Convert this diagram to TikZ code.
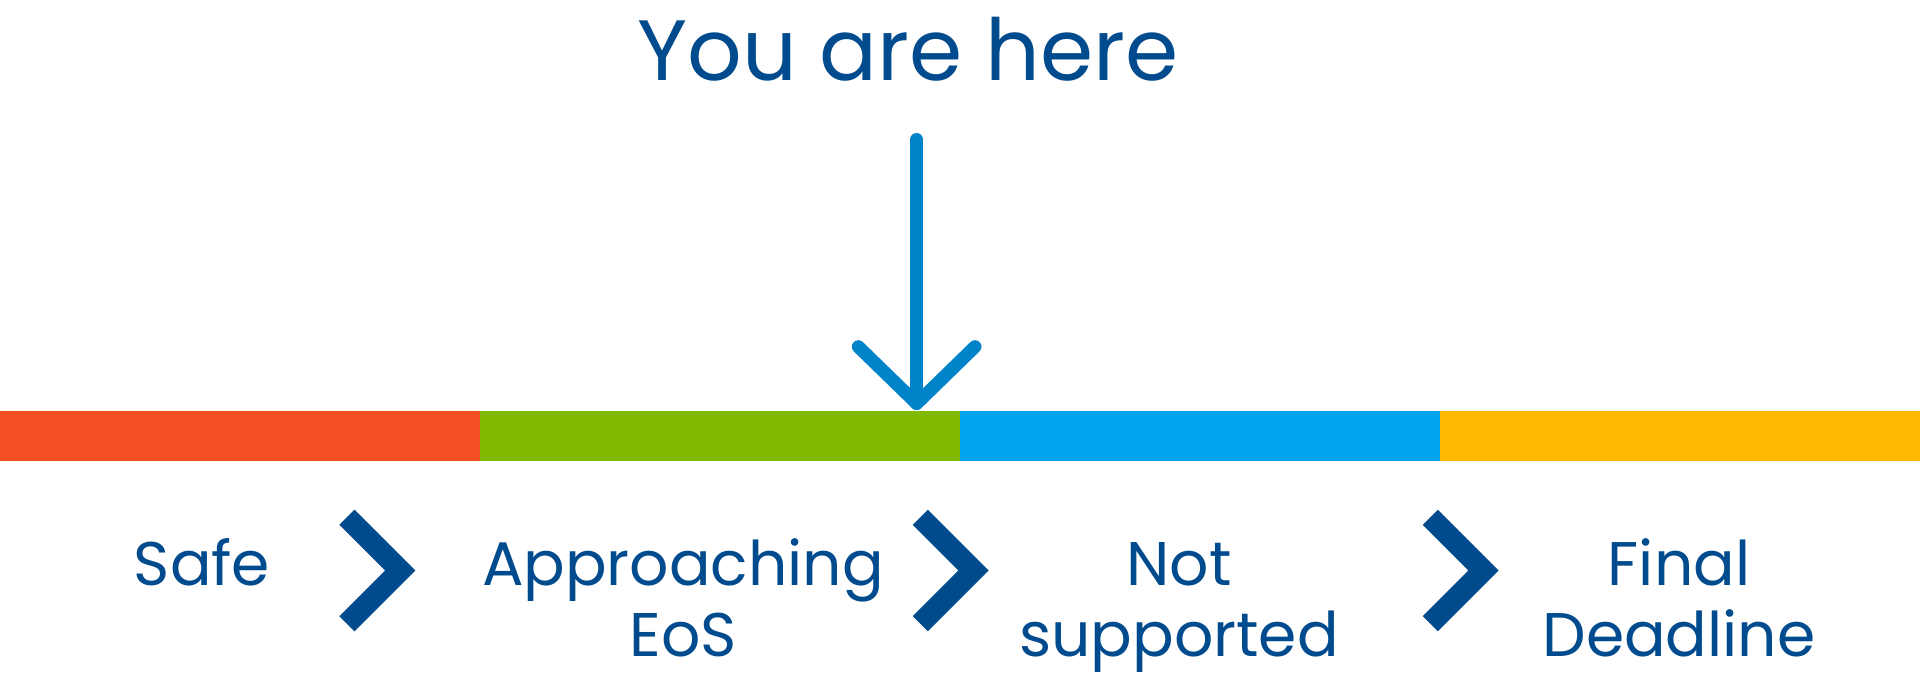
\documentclass[tikz,border=0pt]{standalone}
\usepackage{fontspec}
\setmainfont{Poppins}
\definecolor{msred}{HTML}{F25022}
\definecolor{msgreen}{HTML}{7FBA00}
\definecolor{msblue}{HTML}{00A4EF}
\definecolor{msyellow}{HTML}{FFB900}
\definecolor{textblue}{HTML}{004B8D}
\definecolor{arrowblue}{HTML}{0083C9}
\tikzset{
  titletext/.style={text=textblue, font=\fontsize{42.8pt}{50pt}\selectfont, inner sep=0pt, anchor=base},
  stagetext/.style={text=textblue, font=\fontsize{30.8pt}{35.5pt}\selectfont, inner sep=0pt, align=center, anchor=base},
  chevron/.style={draw=textblue, line width=10.7pt, line cap=butt, line join=miter},
  pointer/.style={draw=arrowblue, line width=6.5pt, line cap=round, line join=round},
}
\begin{document}
\begin{tikzpicture}[x=0.5pt,y=-0.5pt]
\useasboundingbox (0,0) rectangle (1920,690);
% title
\node[titletext] (title) at (908,80.7) {You are here};
% colour bar
\fill[msred] (0,411) rectangle (480,461);
\fill[msgreen] (480,411) rectangle (960,461);
\fill[msblue] (960,411) rectangle (1440,461);
\fill[msyellow] (1440,411) rectangle (1920,461);
% pointer arrow
\coordinate (ptop) at (916.7,139.5);
\coordinate (ptip) at (916.7,403.5);
\coordinate (parmL) at (858.3,346.7);
\coordinate (parmR) at (975,346.7);
\draw[pointer] (ptop) -- (ptip);
\draw[pointer] (parmL) -- (ptip) -- (parmR);
% stage labels (base anchor = baseline of last line)
\node[stagetext] (safe) at (202,585.7) {Safe};
\node[stagetext] (appr) at (683,656.7) {Approaching\\EoS};
\node[stagetext] (nots) at (1179,656.7) {Not\\supported};
\node[stagetext] (final) at (1679,656.7) {Final\\Deadline};
% chevrons
\foreach \L in {339.3,912.7,1422.7}{
  \draw[chevron] (\L+7.6,517.25) -- (\L+60.85,570.5) -- (\L+7.6,623.75);
}
\end{tikzpicture}
\end{document}
